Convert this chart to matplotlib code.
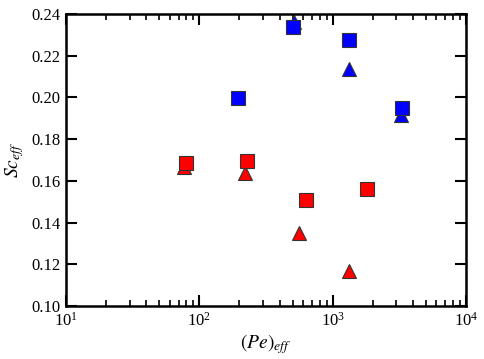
import numpy as np
import matplotlib
matplotlib.use("Agg")
import matplotlib.pyplot as plt
from matplotlib.ticker import LogLocator, NullLocator, FixedLocator

plt.rcParams["font.family"] = ["Liberation Serif", "DejaVu Serif"]
plt.rcParams["mathtext.fontset"] = "stix"

# dados
pe_azul_q = [507, 1334, 196, 3296]
sc_azul_q = [0.2339, 0.2275, 0.1996, 0.1948]

pe_azul_t = [513, 1320, 3250]
sc_azul_t = [0.2362, 0.2135, 0.1918]

pe_verm_q = [79, 229, 628, 1820]
sc_verm_q = [0.1687, 0.1694, 0.1508, 0.1561]

pe_verm_t = [77, 220, 557, 1334]
sc_verm_t = [0.1665, 0.1636, 0.1349, 0.1170]

y_ticks = [0.10, 0.12, 0.14, 0.16, 0.18, 0.20, 0.22, 0.24]

fig = plt.figure(figsize=(4.85, 3.59), dpi=100)
ax = fig.add_axes([66/485, 1 - 306/359, 400/485, 292/359])

estilo = dict(linestyle="none", markersize=10.5, markeredgecolor="#333333",
              markeredgewidth=0.8, clip_on=False)

ax.plot(pe_verm_t, sc_verm_t, marker="^", color="red", **estilo)
ax.plot(pe_verm_q, sc_verm_q, marker="s", color="red", **estilo)
ax.plot(pe_azul_t, sc_azul_t, marker="^", color="blue", **estilo)
ax.plot(pe_azul_q, sc_azul_q, marker="s", color="blue", **estilo)

ax.set_xscale("log")
ax.set_xlim(10, 1e4)
ax.set_ylim(0.10, 0.24)
ax.yaxis.set_major_locator(FixedLocator(y_ticks))
ax.yaxis.set_minor_locator(NullLocator())
ax.xaxis.set_major_locator(LogLocator(base=10, numticks=10))
ax.xaxis.set_minor_locator(LogLocator(base=10, subs=np.arange(2, 10), numticks=20))
ax.set_yticklabels(["%.2f" % v for v in y_ticks])

ax.tick_params(which="both", direction="in", top=True, right=True, labelsize=12, width=1.5, colors="black")
ax.tick_params(which="major", length=8, pad=4)
ax.tick_params(which="minor", length=4, width=1.2)
for s in ax.spines.values():
    s.set_linewidth(1.8)

ax.set_xlabel(r"$(Pe)_{eff}$", fontsize=14, labelpad=2)
ax.set_ylabel(r"$Sc_{eff}$", fontsize=14, labelpad=4)

fig.savefig("out.png", dpi=100)
